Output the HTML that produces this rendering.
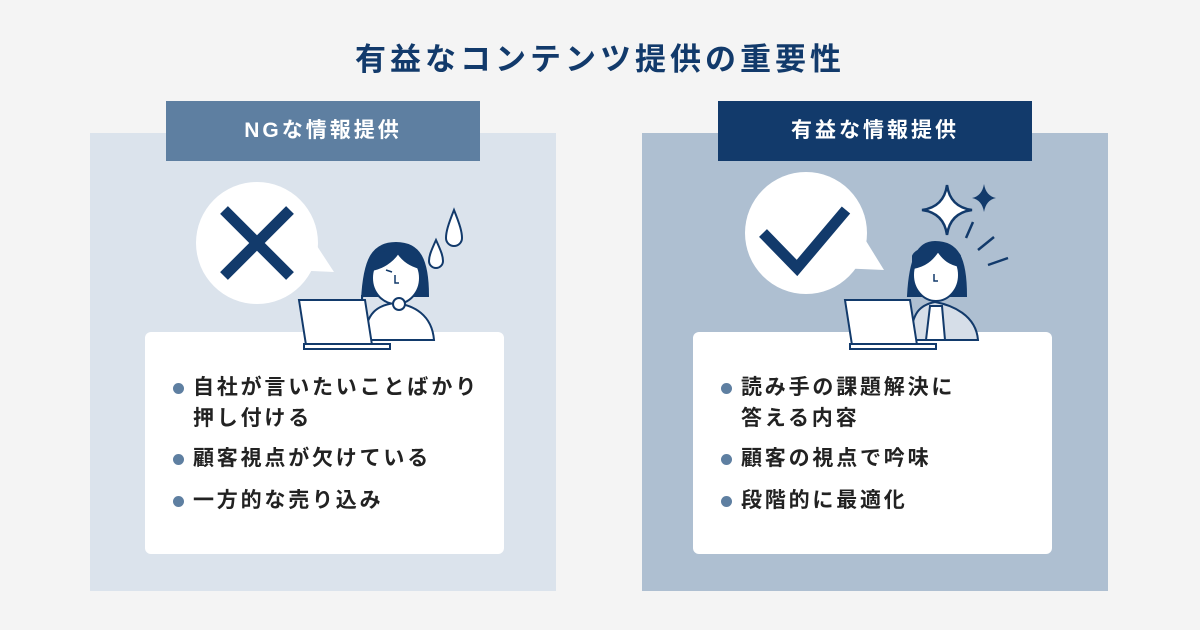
<!DOCTYPE html>
<html><head><meta charset="utf-8"><style>
*{margin:0;padding:0;box-sizing:border-box}
body{width:1200px;height:630px;background:#f4f4f4;position:relative;overflow:hidden;font-family:"Liberation Sans","Noto Sans CJK JP",sans-serif}
.abs{position:absolute}
.title{left:0;width:1200px;top:34px;text-align:center;font-size:31px;font-weight:700;color:#123a6b;letter-spacing:4px}
.panel{top:133px;width:466px;height:458px}
.label{top:101px;width:314px;height:60px;color:#fff;font-size:21px;font-weight:700;letter-spacing:3px;text-align:center;line-height:60px}
.card{top:332px;width:359px;height:222px;background:#fff;border-radius:6px}
.item{position:absolute;left:48px;font-size:21px;font-weight:700;color:#222;letter-spacing:2.8px;line-height:31px}
.item:before{content:"";position:absolute;left:-20px;top:11px;width:11px;height:11px;border-radius:50%;background:#5e7fa1}
</style></head><body>
<div class="abs title">有益なコンテンツ提供の重要性</div>

<div class="abs panel" style="left:90px;background:#dbe3ec"></div>
<div class="abs panel" style="left:642px;background:#aebfd1"></div>
<div class="abs label" style="left:166px;background:#5e7fa1">NGな情報提供</div>
<div class="abs label" style="left:718px;background:#123a6b">有益な情報提供</div>

<div class="abs card" style="left:145px">
  <div class="item" style="top:40px">自社が言いたいことばかり<br>押し付ける</div>
  <div class="item" style="top:111px">顧客視点が欠けている</div>
  <div class="item" style="top:153px">一方的な売り込み</div>
</div>
<div class="abs card" style="left:693px">
  <div class="item" style="top:40px">読み手の課題解決に<br>答える内容</div>
  <div class="item" style="top:111px">顧客の視点で吟味</div>
  <div class="item" style="top:153px">段階的に最適化</div>
</div>

<svg class="abs" style="left:0;top:0" width="1200" height="630">
<circle cx="257" cy="243" r="61" fill="#fff"/>
<path d="M300 220 L334 272 L290 270 Z" fill="#fff"/>
<path d="M224 210 L290 276 M290 210 L224 276" stroke="#123a6b" stroke-width="11"/>
<path d="M454 210 C448 225 446 232 446 238 A8 8 0 0 0 462 238 C462 232 460 225 454 210Z" fill="#fff" stroke="#123a6b" stroke-width="2"/>
<path d="M436 240 C431 251 429 256 429 261 A7 7 0 0 0 443 261 C443 256 441 251 436 240Z" fill="#fff" stroke="#123a6b" stroke-width="2"/>
<g stroke="#123a6b" stroke-width="2">
<path d="M362 300 C364 260 372 243 396 243 C420 243 428 260 428 296 L362 296Z" fill="#123a6b"/>
<path d="M364 340 C366 312 378 305 395 303 C414 305 432 315 434 340Z" fill="#fff"/>
<ellipse cx="396" cy="278" rx="24" ry="26" fill="#fff"/>
<path d="M372 270 C382 268 392 262 398 253 C404 262 412 266 420 268 L420 258 C415 246 378 246 372 258Z" fill="#123a6b"/>
<path d="M395 275 L395 283 L399 283" fill="none" stroke-width="1.5"/>
<path d="M386 270 L392 272" fill="none" stroke-width="1.5"/>
<circle cx="399" cy="304" r="6" fill="#fff"/>
<path d="M299 300 L365 300 L372 345 L306 345 Z" fill="#fff"/>
<rect x="304" y="344" width="86" height="5" fill="#fff"/>
</g>
<circle cx="806" cy="233" r="61" fill="#fff"/>
<path d="M850 215 L884 270 L838 268 Z" fill="#fff"/>
<path d="M763 233 L797 268 L846 210" stroke="#123a6b" stroke-width="11" fill="none"/>
<path d="M947 185 Q950 207 972 210 Q950 213 947 235 Q944 213 922 210 Q944 207 947 185Z" fill="#fff" stroke="#123a6b" stroke-width="2.5"/>
<path d="M984 184 Q986 196 996 198 Q986 200 984 212 Q982 200 972 198 Q982 196 984 184Z" fill="#123a6b"/>
<path d="M973 222 L966 238 M994 237 L978 250 M1008 258 L988 265" stroke="#123a6b" stroke-width="2.5"/>
<g stroke="#123a6b" stroke-width="2">
<path d="M908 296 C910 258 918 242 935 242 C958 242 966 258 966 296 Z" fill="#123a6b"/>
<path d="M910 340 C912 312 920 305 935 302 C952 305 976 315 978 340Z" fill="#d6dee8"/>
<path d="M926 340 L930 306 L942 306 L945 340Z" fill="#fff"/>
<ellipse cx="936" cy="275" rx="23" ry="26" fill="#fff"/>
<path d="M913 268 C925 266 932 260 938 251 C944 260 950 264 960 266 L960 256 C954 244 918 244 913 256Z" fill="#123a6b"/>
<path d="M934 274 L934 281 L938 281" fill="none" stroke-width="1.5"/>
<path d="M845 300 L910 300 L917 345 L852 345 Z" fill="#fff"/>
<rect x="850" y="344" width="86" height="5" fill="#fff"/>
</g>
</svg>
</body></html>
